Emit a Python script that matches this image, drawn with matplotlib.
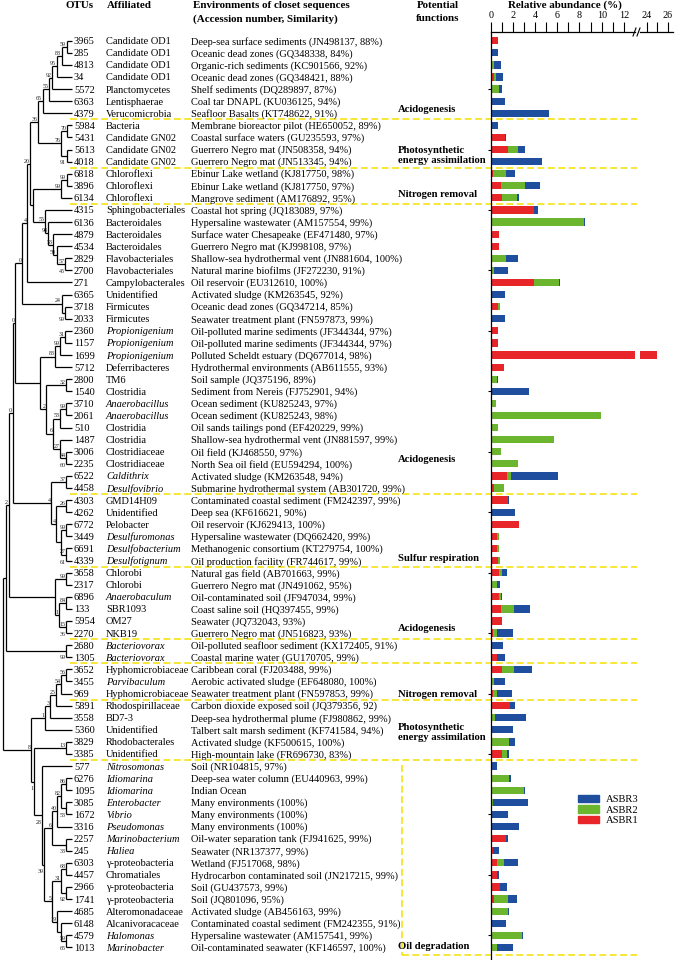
import matplotlib
matplotlib.use('Agg')
import matplotlib.pyplot as plt
from matplotlib.patches import Patch
import numpy as np

plt.rcParams['font.family'] = ['Liberation Serif', 'DejaVu Serif']

# ---------------- data ----------------
otus = ['3965', '285', '4813', '34', '5572', '6363', '4379', '5984', '5431', '5613', '4018',
        '6818', '3896', '6134', '4315', '6136', '4879', '4534', '2829', '2700', '271', '6365',
        '3718', '2033', '2360', '1157', '1699', '5712', '2800', '1540', '3710', '2061', '510',
        '1487', '3006', '2235', '6522', '4458', '4303', '4262', '6772', '3449', '6691', '4339',
        '3658', '2317', '6896', '133', '5954', '2270', '2680', '1305', '3652', '3455', '969',
        '5891', '3558', '5360', '3829', '3385', '577', '6276', '1095', '3085', '1672', '3316',
        '2257', '245', '6303', '4457', '2966', '1741', '4685', '6148', '4579', '1013']

affiliated = ['Candidate OD1', 'Candidate OD1', 'Candidate OD1', 'Candidate OD1', 'Planctomycetes',
              'Lentisphaerae', 'Verucomicrobia', 'Bacteria', 'Candidate GN02', 'Candidate GN02',
              'Candidate GN02', 'Chloroflexi', 'Chloroflexi', 'Chloroflexi', 'Sphingobacteriales',
              'Bacteroidales', 'Bacteroidales', 'Bacteroidales', 'Flavobacteriales', 'Flavobacteriales',
              'Campylobacterales', 'Unidentified', 'Firmicutes', 'Firmicutes', 'Propionigenium',
              'Propionigenium', 'Propionigenium', 'Deferribacteres', 'TM6', 'Clostridia',
              'Anaerobacillus', 'Anaerobacillus', 'Clostridia', 'Clostridia', 'Clostridiaceae',
              'Clostridiaceae', 'Caldithrix', 'Desulfovibrio', 'GMD14H09', 'Unidentified',
              'Pelobacter', 'Desulfuromonas', 'Desulfobacterium', 'Desulfotignum', 'Chlorobi',
              'Chlorobi', 'Anaerobaculum', 'SBR1093', 'OM27', 'NKB19', 'Bacteriovorax',
              'Bacteriovorax', 'Hyphomicrobiaceae', 'Parvibaculum', 'Hyphomicrobiaceae',
              'Rhodospirillaceae', 'BD7-3', 'Unidentified', 'Rhodobacterales', 'Unidentified',
              'Nitrosomonas', 'Idiomarina', 'Idiomarina', 'Enterobacter', 'Vibrio', 'Pseudomonas',
              'Marinobacterium', 'Haliea', 'γ-proteobacteria', 'Chromatiales', 'γ-proteobacteria',
              'γ-proteobacteria', 'Alteromonadaceae', 'Alcanivoracaceae', 'Halomonas', 'Marinobacter']

italic_taxa = {'Propionigenium', 'Anaerobacillus', 'Caldithrix', 'Desulfovibrio', 'Desulfuromonas',
               'Desulfobacterium', 'Desulfotignum', 'Anaerobaculum', 'Bacteriovorax', 'Parvibaculum',
               'Nitrosomonas', 'Idiomarina', 'Enterobacter', 'Vibrio', 'Pseudomonas',
               'Marinobacterium', 'Haliea', 'Halomonas', 'Marinobacter'}

environments = [
    'Deep-sea surface sediments (JN498137, 88%)', 'Oceanic dead zones (GQ348338, 84%)',
    'Organic-rich sediments (KC901566, 92%)', 'Oceanic dead zones (GQ348421, 88%)',
    'Shelf sediments (DQ289897, 87%)', 'Coal tar DNAPL (KU036125, 94%)',
    'Seafloor Basalts (KT748622, 91%)', 'Membrane bioreactor pilot (HE650052, 89%)',
    'Coastal surface waters (GU235593, 97%)', 'Guerrero Negro mat (JN508358, 94%)',
    'Guerrero Negro mat (JN513345, 94%)', 'Ebinur Lake wetland (KJ817750, 98%)',
    'Ebinur Lake wetland (KJ817750, 97%)', 'Mangrove sediment (AM176892, 95%)',
    'Coastal hot spring (JQ183089, 97%)', 'Hypersaline wastewater (AM157554, 99%)',
    'Surface water Chesapeake (EF471480, 97%)', 'Guerrero Negro mat (KJ998108, 97%)',
    'Shallow-sea hydrothermal vent (JN881604, 100%)', 'Natural marine biofilms (JF272230, 91%)',
    'Oil reservoir (EU312610, 100%)', 'Activated sludge (KM263545, 92%)',
    'Oceanic dead zones (GQ347214, 85%)', 'Seawater treatment plant (FN597873, 99%)',
    'Oil-polluted marine sediments (JF344344, 97%)', 'Oil-polluted marine sediments (JF344344, 97%)',
    'Polluted Scheldt estuary (DQ677014, 98%)', 'Hydrothermal environments (AB611555, 93%)',
    'Soil sample (JQ375196, 89%)', 'Sediment from Nereis (FJ752901, 94%)',
    'Ocean sediment (KU825243, 97%)', 'Ocean sediment (KU825243, 98%)',
    'Oil sands tailings pond (EF420229, 99%)', 'Shallow-sea hydrothermal vent (JN881597, 99%)',
    'Oil field (KJ468550, 97%)', 'North Sea oil field (EU594294, 100%)',
    'Activated sludge (KM263548, 94%)', 'Submarine hydrothermal system (AB301720, 99%)',
    'Contaminated coastal sediment (FM242397, 99%)', 'Deep sea (KF616621, 90%)',
    'Oil reservoir (KJ629413, 100%)', 'Hypersaline wastewater (DQ662420, 99%)',
    'Methanogenic consortium (KT279754, 100%)', 'Oil production facility (FR744617, 99%)',
    'Natural gas field (AB701663, 99%)', 'Guerrero Negro mat (JN491062, 95%)',
    'Oil-contaminated soil (JF947034, 99%)', 'Coast saline soil (HQ397455, 99%)',
    'Seawater (JQ732043, 93%)', 'Guerrero Negro mat (JN516823, 93%)',
    'Oil-polluted seafloor sediment (KX172405, 91%)', 'Coastal marine water (GU170705, 99%)',
    'Caribbean coral (FJ203488, 99%)', 'Aerobic activated sludge (EF648080, 100%)',
    'Seawater treatment plant (FN597853, 99%)', 'Carbon dioxide exposed soil (JQ379356, 92)',
    'Deep-sea hydrothermal plume (FJ980862, 99%)', 'Talbert salt marsh sediment (KF741584, 94%)',
    'Activated sludge (KF500615, 100%)', 'High-mountain lake (FR696730, 83%)',
    'Soil (NR104815, 97%)', 'Deep-sea water column (EU440963, 99%)', 'Indian Ocean',
    'Many environments (100%)', 'Many environments (100%)', 'Many environments (100%)',
    'Oil-water separation tank (FJ941625, 99%)', 'Seawater (NR137377, 99%)',
    'Wetland (FJ517068, 98%)', 'Hydrocarbon contaminated soil (JN217215, 99%)',
    'Soil (GU437573, 99%)', 'Soil (JQ801096, 95%)', 'Activated sludge (AB456163, 99%)',
    'Contaminated coastal sediment (FM242355, 91%)', 'Hypersaline wastewater (AM157541, 99%)',
    'Oil-contaminated seawater (KF146597, 100%)']

asbr1 = [0.70, 0, 0, 0.33, 0, 0, 0, 0, 1.28, 1.58, 0,
         0.20, 0.93, 1.01, 3.91, 0, 0.78, 0.72, 0.12, 0, 3.88, 0,
         0.63, 0, 0.63, 0.66, 25.0, 1.19, 0, 0, 0, 0, 0,
         0, 0, 0.15, 1.46, 0.30, 1.52, 0, 2.57, 0.54, 0.60, 0.69,
         0.75, 0, 0.75, 0.93, 0.99, 0.24, 0, 0.57, 1.01, 0, 0.18,
         1.73, 0, 0, 0.15, 1.01, 0, 0, 0, 0.09, 0, 0,
         1.40, 0.18, 0.60, 0.54, 0.87, 0.33, 0, 0, 0, 0.12]
asbr2 = [0, 0, 0.30, 0.12, 0.75, 0, 0, 0, 0, 0.84, 0,
         1.22, 2.15, 1.34, 0, 8.45, 0, 0, 1.28, 0.30, 2.30, 0,
         0.18, 0, 0, 0, 0, 0, 0.60, 0, 0.51, 9.94, 0.69,
         5.73, 0.93, 2.27, 0.33, 0.93, 0, 0, 0, 0.18, 0.12, 0.12,
         0.24, 0.54, 0.15, 1.19, 0, 0.30, 0, 0, 1.07, 0.30, 0.39,
         0, 0.36, 0, 1.49, 0.45, 0, 1.67, 3.01, 0.12, 0, 0,
         0, 0, 0.63, 0, 0, 1.19, 1.58, 0, 2.78, 0.42]
asbr3 = [0, 0.63, 0.60, 0.69, 0.24, 1.31, 5.28, 0.69, 0.12, 0.69, 4.60,
         0.78, 1.34, 0.18, 0.33, 0.09, 0, 0, 1.04, 1.28, 0.06, 1.28,
         0, 1.28, 0, 0, 0, 0, 0.09, 3.49, 0, 0, 0,
         0, 0, 0, 4.24, 0, 0.12, 2.18, 0, 0, 0, 0,
         0.48, 0.30, 0.15, 1.43, 0, 1.43, 1.07, 0.69, 1.64, 0.99, 1.37,
         0.48, 2.81, 2.03, 0.51, 0.18, 0.60, 0.18, 0.06, 3.19, 1.52, 2.51,
         0.12, 0.57, 1.22, 0.24, 0.60, 0.81, 0.06, 1.37, 0.09, 1.43]

series_labels = ['ASBR3', 'ASBR2', 'ASBR1']
ticks_left = [0, 2, 4, 6, 8, 10, 12]
ticks_right = [24, 26]

# functional groups: (label, row position); group separators
functions = [('Acidogenesis', 5.65), ('Photosynthetic\nenergy assimilation', 9.5),
             ('Nitrogen removal', 12.68), ('Acidogenesis', 34.68), ('Sulfur respiration', 42.8),
             ('Acidogenesis', 48.66), ('Nitrogen removal', 54.1),
             ('Photosynthetic\nenergy assimilation', 57.26), ('Oil degradation', 74.96)]
separators_after = [6, 10, 13, 37, 43, 49, 51, 54, 59]

# phylogenetic tree: node(depth, children, bootstrap, label placement)
def N(x, ch, lab='', pos='m', lab2=''):
    return dict(x=x, ch=ch, lab=lab, pos=pos, lab2=lab2)

n65 = N(42.7, [N(49, [N(52.3, [N(56.7, [N(61.7, [N(66.7, [0, 1], '59'), 2], '88'), 3], '95'), 4], '92'), 5], '55'), 6], '65')
n76 = N(61, [N(66.7, [7, 8], '70'), N(66.7, [9, 10], '91', 'b')], '76')
n36 = N(38, [n65, n76], '36')
n99b = N(61, [N(66.7, [11, 12], '99'), 13], '99')
n55b = N(45, [14, N(48.3, [15, N(53, [16, N(56.7, [17, N(65, [18, 19], '57', 'm', '45')], '50')], '53')], '98')], '55')
n20 = N(30, [n36, N(33, [n99b, n55b])], '20')
n4 = N(27, [n20, 20], '4')
n24 = N(61.7, [21, N(65, [22, 23], '99', 'b')], '24')
n0b = N(22, [n4, n24], '0')
n83 = N(55, [N(60, [N(65, [24, 25], '31'), 26], '99'), 27], '83')
n2b = N(46, [N(66, [28, 29], '32'),
             N(53, [N(60, [N(66, [30, 31], '99'), 32], '53'),
                    N(60, [33, N(66, [34, 35], '44', 'm', '60')], '27')], '6')], '2')
n0c = N(15, [n0b, N(40, [n83, n2b])], '0')
nHI = N(51, [N(66, [36, 37], '37'),
             N(56, [N(66, [38, 39], '26'),
                    N(61, [N(66, [40, 41], '99'), N(66, [42, 43], '27', 'm', '61')])], '4')], '4')
n0d = N(12.5, [n0c, nHI], '0')
n1 = N(55, [N(66, [44, 45], '99'), N(59, [N(66, [46, 47], '84'), N(66, [48, 49], '15', 'm', '36')], '1')])
n2 = N(8.5, [n0d, n1], '2')
nK = N(6.3, [n2, N(66, [50, 51], '99', 'b')])
n1b = N(45, [N(50, [N(56, [N(61, [N(66, [52, 53], '56'), 54], '54'), 55], '25'), 56], '3'), 57], '1')
n5 = N(52, [N(61, [N(66, [68, 69], '68'), N(66, [70, 71], '92', 'b')], '31'),
            N(57, [72, N(61, [73, N(66, [74, 75], '59', 'm', '65')])], '19')], '5')
n6b = N(52, [N(57, [N(61, [N(66, [61, 62], '86'), N(66, [63, 64], '53', 'b')], '82'), 65], '40'),
             N(66, [66, 67], '33', 'b')], '6')
n28 = N(42, [60, N(44, [n6b, n5], '39', 'b')], '28', 'b')
n8 = N(31, [n1b, N(34, [N(66, [58, 59], '13'), n28], '1', 'b')], '8')
tree = N(2.7, [nK, n8])

# ---------------- layout ----------------
W, H = 675, 960
ROW0, PITCH = 40.7, 12.09
def row_of(py):
    return (py - ROW0) / PITCH

RED, GREEN, BLUE = '#e8262a', '#6cb52f', '#1f4e9f'
YEL = '#f5e000'
TIP = 72

fig = plt.figure(figsize=(W / 100, H / 100), dpi=100)
ax = fig.add_axes([0, 0, 1, 1])
ax.set_xlim(0, W)
ax.set_ylim(row_of(H), row_of(0))
ax.axis('off')

def fig_rect(x0, x1, y0, y1):
    return [x0 / W, 1 - y1 / H, (x1 - x0) / W, (y1 - y0) / H]

ax1 = fig.add_axes(fig_rect(490.7, 635, 32, 960))
ax2 = fig.add_axes(fig_rect(640, 673, 32, 960))
rows = np.arange(len(otus))
r = np.array(asbr1); g = np.array(asbr2); b = np.array(asbr3)
for a in (ax1, ax2):
    a.patch.set_alpha(0)
    a.set_ylim(row_of(960), row_of(32))
    a.barh(rows, r, height=0.6, color=RED)
    a.barh(rows, g, left=r, height=0.6, color=GREEN)
    a.barh(rows, b, left=r + g, height=0.6, color=BLUE)
    a.xaxis.tick_top()
    for s in ('right', 'bottom'):
        a.spines[s].set_visible(False)
    a.spines['top'].set_linewidth(0.9)
ax1.set_xlim(0, 13)
ax2.set_xlim(23.33, 26.48)
ax1.set_xticks(ticks_left)
ax1.set_xticks(range(1, 13, 2), minor=True)
ax2.set_xticks(ticks_right)
ax2.set_xticks([25], minor=True)
for a in (ax1, ax2):
    a.tick_params(axis='x', which='both', direction='out', length=7.5, width=0.8, pad=1,
                  labelsize=7.3)
ax1.spines['left'].set_linewidth(0.9)
ax1.set_yticks(rows[4::5])
ax1.tick_params(axis='y', length=2.5, width=0.8, labelleft=False)
ax2.spines['left'].set_visible(False)
ax2.set_yticks([])
# axis break marks
for xb in (634.5, 638.5):
    ax.plot([xb - 1.5, xb + 1.5], [row_of(36), row_of(28)], color='k', lw=0.8)

# ---------------- tree ----------------
LW = 0.9
def draw(n, px):
    if isinstance(n, int):
        ax.plot([px, TIP], [n, n], color='k', lw=LW, solid_capstyle='butt')
        return n
    ys = [draw(c, n['x']) for c in n['ch']]
    ax.plot([n['x'], n['x']], [ys[0], ys[-1]], color='k', lw=LW, solid_capstyle='butt')
    y = (ys[0] + ys[-1]) / 2
    if px is not None:
        ax.plot([px, n['x']], [y, y], color='k', lw=LW, solid_capstyle='butt')
    if n['lab']:
        ly = y - 0.22 if n['pos'] == 'm' else y + 0.55
        ax.text(n['x'] - 0.6, ly, n['lab'], fontsize=4.3, ha='right', va='center', color='#222')
    if n['lab2']:
        ax.text(n['x'] - 0.6, y + 0.62, n['lab2'], fontsize=4.3, ha='right', va='center', color='#222')
    return y

draw(tree, None)

# ---------------- text columns ----------------
FS = 7.5
for i in rows:
    ax.text(74, i + 0.08, otus[i], fontsize=FS, va='center')
    ax.text(106, i + 0.08, affiliated[i], fontsize=FS, va='center',
            style='italic' if affiliated[i] in italic_taxa else 'normal')
    ax.text(191, i + 0.08, environments[i], fontsize=FS, va='center')

HB = dict(fontsize=7.9, fontweight='bold', va='center')
ax.text(65, row_of(6), 'OTUs', **HB)
ax.text(107, row_of(6), 'Affiliated', **HB)
ax.text(193, row_of(6), 'Environments of closet sequences', **HB)
ax.text(193, row_of(19), '(Accession number, Similarity)', **HB)
ax.text(438, row_of(5.5), 'Potential', ha='center', **HB)
ax.text(438, row_of(18.5), 'functions', ha='center', **HB)
ax.text(565, row_of(5.5), 'Relative abundance (%)', ha='center', **HB)

for lab, yr in functions:
    ax.text(398, yr, lab, fontsize=7.7, fontweight='bold', va='center', ha='left',
            linespacing=1.15)

DASH = (0, (4.5, 2.3))
for s in separators_after:
    ax.plot([70, 637], [s + 0.5, s + 0.5], color=YEL, lw=1.1, ls=DASH)
ax.plot([402, 402], [59.9, 75.6], color=YEL, lw=1.1, ls=DASH)
ax.plot([402, 637], [75.6, 75.6], color=YEL, lw=1.1, ls=DASH)

# legend
handles = [Patch(color=c, label=l) for c, l in zip((BLUE, GREEN, RED), series_labels)]
fig.legend(handles=handles, loc='upper left', bbox_to_anchor=(578 / W, 1 - 795 / H),
           frameon=False, fontsize=7.6, handlelength=2.0, handleheight=0.65,
           labelspacing=0.12, handletextpad=0.6, borderpad=0, borderaxespad=0)

fig.savefig('out.png', dpi=100)
